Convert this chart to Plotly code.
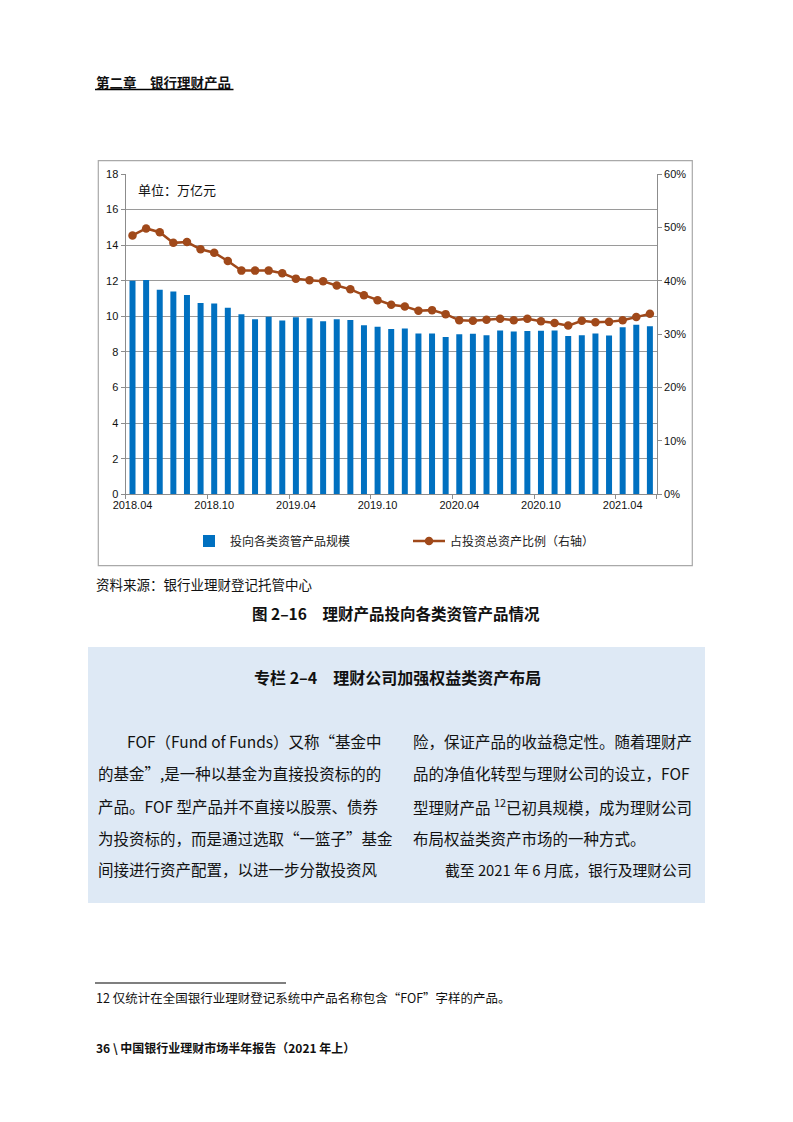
import plotly.graph_objects as go

# ---------------- data ----------------
months = ["2018.04","2018.05","2018.06","2018.07","2018.08","2018.09","2018.10","2018.11","2018.12",
          "2019.01","2019.02","2019.03","2019.04","2019.05","2019.06","2019.07","2019.08","2019.09",
          "2019.10","2019.11","2019.12","2020.01","2020.02","2020.03","2020.04","2020.05","2020.06",
          "2020.07","2020.08","2020.09","2020.10","2020.11","2020.12","2021.01","2021.02","2021.03",
          "2021.04","2021.05","2021.06"]
scale_values = [12.0, 12.05, 11.5, 11.4, 11.2, 10.75, 10.72, 10.48, 10.12,
                9.84, 9.98, 9.77, 9.95, 9.9, 9.72, 9.84, 9.8, 9.5,
                9.42, 9.29, 9.32, 9.04, 9.04, 8.84, 9.0, 9.02, 8.94,
                9.2, 9.15, 9.17, 9.19, 9.2, 8.89, 8.94, 9.04, 8.92,
                9.39, 9.53, 9.45]
ratio_values = [48.5, 49.8, 49.1, 47.1, 47.25, 45.9, 45.25, 43.7, 41.9,
                41.9, 41.9, 41.4, 40.4, 40.1, 39.9, 39.1, 38.4, 37.3,
                36.35, 35.5, 35.2, 34.4, 34.5, 33.75, 32.6, 32.5, 32.7,
                32.9, 32.6, 32.9, 32.4, 32.1, 31.6, 32.5, 32.25, 32.3,
                32.6, 33.2, 33.8]
label_months = ["2018.04","2018.10","2019.04","2019.10","2020.04","2020.10","2021.04"]
bar_name = "投向各类资管产品规模"
line_name = "占投资总资产比例（右轴）"

W, H = 793, 1122
def px(x): return x / W
def py(y): return 1 - y / H

CJK = "Noto Sans CJK SC"
TICKF = "Liberation Sans"
BAR_C = "#0070C0"
LINE_C = "#A0491A"
GRID_C = "#9a9a9a"
AX_C = "#8c8c8c"

idx = list(range(len(months)))
tickvals = [months.index(m) for m in label_months]

fig = go.Figure()
fig.add_trace(go.Bar(x=idx, y=scale_values, name=bar_name, marker_color=BAR_C,
                     marker_line_width=0, width=0.44, yaxis="y"))
fig.add_trace(go.Scatter(x=idx, y=ratio_values, name=line_name, mode="lines+markers",
                         line=dict(color=LINE_C, width=2.5),
                         marker=dict(color=LINE_C, size=8.5, symbol="circle"), yaxis="y2"))

fig.update_layout(
    width=W, height=H, margin=dict(l=0, r=0, t=0, b=0, autoexpand=False),
    paper_bgcolor="white", plot_bgcolor="white",
    showlegend=True,
    legend=dict(orientation="h", x=px(188), y=py(541), xanchor="left", yanchor="middle",
                font=dict(family=CJK, size=12, color="#222"),
                entrywidth=173, entrywidthmode="pixels", itemwidth=32,
                bgcolor="rgba(0,0,0,0)", traceorder="normal"),
    xaxis=dict(domain=[px(125.7), px(656.7)], range=[-0.5, len(months) - 0.5],
               tickmode="array", tickvals=tickvals, ticktext=label_months,
               ticks="", showgrid=False, zeroline=False, automargin=False,
               showline=True, linecolor=AX_C, linewidth=1.3,
               tickfont=dict(family=TICKF, size=11, color="#111"),
               minor=dict(tickmode="array",
                          tickvals=[v - 0.5 for v in tickvals] + [len(months) - 0.5],
                          ticks="outside", ticklen=4, tickcolor=AX_C, tickwidth=1.3, showgrid=False),
               fixedrange=True),
    yaxis=dict(domain=[py(494.3), py(174)], range=[0, 18], dtick=2, automargin=False,
               showgrid=True, gridcolor=GRID_C, gridwidth=1.3, zeroline=False,
               showline=True, linecolor=AX_C, linewidth=1.3,
               ticks="outside", ticklen=4, tickcolor=AX_C, tickwidth=1.3,
               tickfont=dict(family=TICKF, size=11, color="#111")),
    yaxis2=dict(domain=[py(494.3), py(174)], range=[0, 60], dtick=10, ticksuffix="%",
                overlaying="y", side="right", anchor="x", automargin=False,
                showgrid=False, zeroline=False,
                showline=True, linecolor=AX_C, linewidth=1.3,
                ticks="outside", ticklen=4, tickcolor=AX_C, tickwidth=1.3,
                tickfont=dict(family=TICKF, size=11, color="#111")),
    bargap=0.5,
)

shapes = []
# chart frame
shapes.append(dict(type="rect", xref="paper", yref="paper", x0=px(98.3), x1=px(692.3),
                   y0=py(565.7), y1=py(160.7), line=dict(color="#a9a9a9", width=1.2), layer="below"))
# header underline
shapes.append(dict(type="line", xref="paper", yref="paper", x0=px(95), x1=px(233.5),
                   y0=py(89.5), y1=py(89.5), line=dict(color="#000", width=1.6)))
# light blue box
shapes.append(dict(type="rect", xref="paper", yref="paper", x0=px(88), x1=px(705),
                   y0=py(903), y1=py(647), fillcolor="#DEE9F5", line=dict(width=0), layer="below"))
# footnote rule
shapes.append(dict(type="line", xref="paper", yref="paper", x0=px(95), x1=px(286),
                   y0=py(983), y1=py(983), line=dict(color="#000", width=1.2)))
fig.update_layout(shapes=shapes)

ann = []
def text(x, y, s, size, bold=False, anchor="left", color="#111", family=CJK):
    ann.append(dict(xref="paper", yref="paper", x=px(x), y=py(y), text=(f"<b>{s}</b>" if bold else s),
                    showarrow=False, xanchor=anchor, yanchor="middle",
                    font=dict(family=family, size=size, color=color)))

text(94, 82, "第二章　银行理财产品", 13.5, bold=True)
text(136, 190, "单位：万亿元", 13)
text(94, 584, "资料来源：银行业理财登记托管中心", 13.5)
text(396, 613, "图 2–16　理财产品投向各类资管产品情况", 15.5, bold=True, anchor="center")
text(397, 677, "专栏 2–4　理财公司加强权益类资产布局", 16, bold=True, anchor="center")

left_lines = ["FOF（Fund of Funds）又称“基金中",
              "的基金”,是一种以基金为直接投资标的的",
              "产品。FOF 型产品并不直接以股票、债券",
              "为投资标的，而是通过选取“一篮子”基金",
              "间接进行资产配置，以进一步分散投资风"]
right_lines = ["险，保证产品的收益稳定性。随着理财产",
               "品的净值化转型与理财公司的设立，FOF",
               "型理财产品 <sup>12</sup>已初具规模，成为理财公司",
               "布局权益类资产市场的一种方式。",
               "截至 2021 年 6 月底，银行及理财公司"]
line_y = [741, 773, 806, 838, 869]
for i, (s, y) in enumerate(zip(left_lines, line_y)):
    text(125 if i == 0 else 96, y, s, 15.5)
for i, (s, y) in enumerate(zip(right_lines, line_y)):
    text(443 if i == 4 else 411, y, s, 14.8 if i == 4 else 15.5)

text(94, 997, "12 仅统计在全国银行业理财登记系统中产品名称包含“FOF”字样的产品。", 12.5)
text(94, 1047, "36 \\ 中国银行业理财市场半年报告（2021 年上）", 12, bold=True)

fig.update_layout(annotations=ann)
fig.write_html("out.html", config={"displayModeBar": False},
               post_script="document.body.style.margin='0';")
